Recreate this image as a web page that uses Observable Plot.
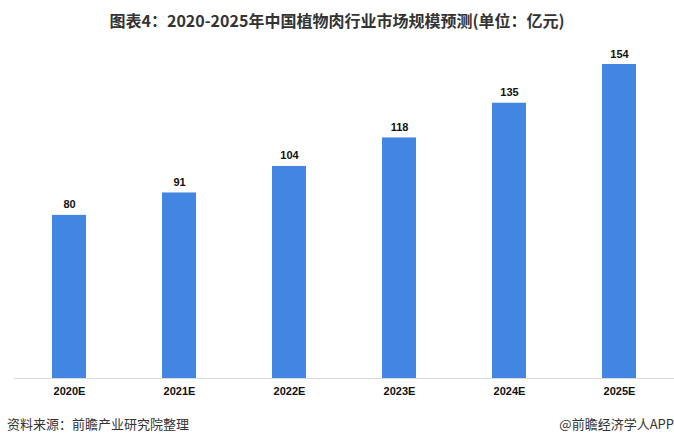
<!DOCTYPE html>
<html>
<head>
<meta charset="utf-8">
<script src="https://cdn.jsdelivr.net/npm/d3@7"></script>
<script src="https://cdn.jsdelivr.net/npm/@observablehq/plot@0.6"></script>
<style>
  html, body { margin: 0; padding: 0; background: #fff; }
  #wrap { width: 674px; height: 445px; position: relative; overflow: hidden; }
  #title { height: 40px; line-height: 40px; text-align: center; font-family: "Noto Sans CJK SC", sans-serif; font-weight: bold; font-size: 16px; color: #333; white-space: nowrap; }
  #footer { height: 40px; line-height: 38px; position: relative; font-family: "Noto Sans CJK SC", sans-serif; font-size: 13px; color: #333; }
  #footer .l { position: absolute; left: 7px; }
  #footer .r { position: absolute; right: 0px; }
  svg { display: block; }
</style>
</head>
<body>
<div id="wrap">
  <div id="title">图表4：2020-2025年中国植物肉行业市场规模预测(单位：亿元)</div>
  <div id="chart"></div>
  <div id="footer"><span class="l">资料来源：前瞻产业研究院整理</span><span class="r">@前瞻经济学人APP</span></div>
</div>
<script>
const years = ["2020E", "2021E", "2022E", "2023E", "2024E", "2025E"];
const values = [80, 91, 104, 118, 135, 154];

const data = years.map((y, i) => ({year: y, value: values[i]}));

const chart = Plot.plot({
  width: 674,
  height: 365,
  marginTop: 24,
  marginBottom: 27,
  marginLeft: 14,
  marginRight: 0,
  style: {fontFamily: "'Liberation Sans', Arial, sans-serif", background: "#fff"},
  x: {domain: years, paddingInner: 0.69, paddingOuter: 0.345, label: null},
  y: {domain: [0, 154], axis: null},
  marks: [
    Plot.barY(data, {x: "year", y: "value", fill: "#4386E1"}),
    Plot.ruleY([0], {stroke: "#d9d9d9", strokeWidth: 1}),
    Plot.text(data, {x: "year", y: "value", text: d => String(d.value), lineAnchor: "bottom", dy: -7, fontSize: 11, fontWeight: "bold", fill: "#111"}),
    Plot.axisX({tickSize: 0, tickPadding: 9, fontSize: 11, fontWeight: "bold", color: "#111", label: null})
  ]
});
document.getElementById("chart").appendChild(chart);
</script>
</body>
</html>
